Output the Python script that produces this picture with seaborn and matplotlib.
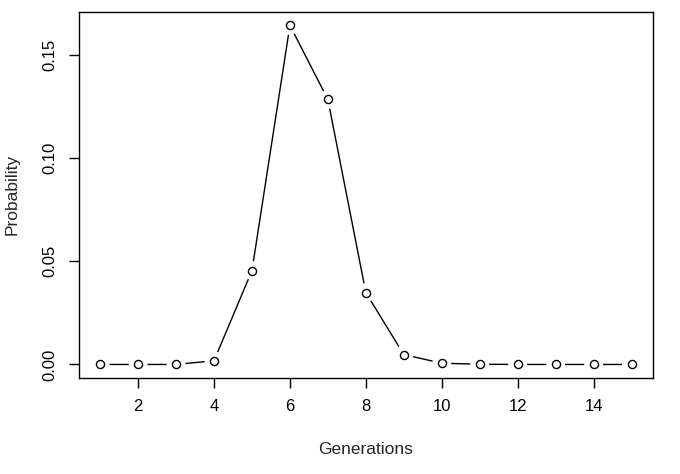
import matplotlib
matplotlib.use("Agg")
import seaborn as sns
import matplotlib.pyplot as plt
import pandas as pd

generations = list(range(1, 16))
probability = [0.0, 0.0, 0.0, 0.0018, 0.0455, 0.1644, 0.1285, 0.0348,
               0.0048, 0.0006, 0.0001, 0.0, 0.0, 0.0, 0.0]
x_ticks = [2, 4, 6, 8, 10, 12, 14]
y_ticks = [0.00, 0.05, 0.10, 0.15]
y_tick_labels = ["0.00", "0.05", "0.10", "0.15"]

df = pd.DataFrame({"Generations": generations, "Probability": probability})

sns.set_style("ticks")
plt.rcParams['font.family'] = ['Liberation Sans', 'DejaVu Sans']

fig = plt.figure(figsize=(6.8, 4.74), dpi=100)
ax = fig.add_axes([0.116, 0.2025, 0.844, 0.7725])

# type="b" look: line, white halo to cut gaps, then open circles
sns.lineplot(data=df, x="Generations", y="Probability", color="black", lw=1, ax=ax)
sns.scatterplot(data=df, x="Generations", y="Probability", s=185, color="white",
                edgecolor="none", linewidth=0, ax=ax, zorder=3)
sns.scatterplot(data=df, x="Generations", y="Probability", s=34, facecolor="white",
                edgecolor="black", linewidth=1, ax=ax, zorder=4)

xr = max(generations) - min(generations)
ax.set_xlim(min(generations) - 0.04 * xr, max(generations) + 0.04 * xr)
yr = max(probability) - min(probability)
ax.set_ylim(min(probability) - 0.04 * yr, max(probability) + 0.04 * yr)

ax.set_xticks(x_ticks)
ax.set_yticks(y_ticks)
ax.set_yticklabels(y_tick_labels, rotation=90, va="center")
ax.tick_params(axis="both", direction="out", length=7.2, width=1, labelsize=12,
               color="black", labelcolor="black", pad=8)

for sp in ax.spines.values():
    sp.set_visible(True)
    sp.set_color("black")
    sp.set_linewidth(1)

ax.set_xlabel("Generations", fontsize=12.5, labelpad=20)
ax.set_ylabel("Probability", fontsize=12.5, labelpad=17)

fig.savefig("out.png", dpi=100)
plt.close(fig)
